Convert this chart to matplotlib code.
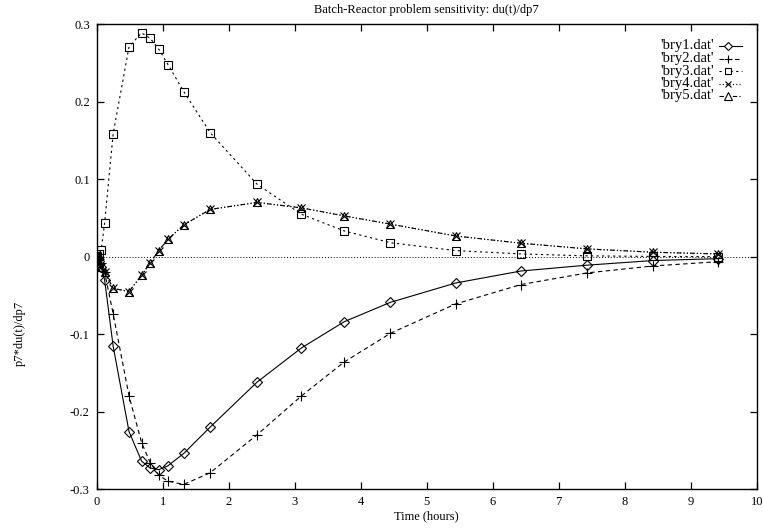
import matplotlib
matplotlib.use("Agg")
import matplotlib.pyplot as plt
from matplotlib.lines import Line2D

plt.rcParams['font.family'] = ['Liberation Serif', 'DejaVu Serif']

# Sample times (hours) shared by all data files
time = [0.0, 0.01, 0.03, 0.07, 0.12, 0.25, 0.49, 0.68, 0.81, 0.94, 1.08,
        1.32, 1.72, 2.43, 3.10, 3.75, 4.45, 5.44, 6.43, 7.43, 8.43, 9.42]

bry1 = [0.0, -0.002, -0.006, -0.014, -0.030, -0.116, -0.226, -0.264, -0.273,
        -0.275, -0.270, -0.254, -0.220, -0.162, -0.118, -0.084, -0.059,
        -0.034, -0.0185, -0.011, -0.005, -0.0026]
bry2 = [0.0, -0.001, -0.003, -0.008, -0.020, -0.074, -0.180, -0.240, -0.266,
        -0.282, -0.290, -0.294, -0.279, -0.230, -0.180, -0.136, -0.099,
        -0.061, -0.036, -0.021, -0.012, -0.0065]
bry3 = [0.0, 0.001, 0.003, 0.009, 0.044, 0.159, 0.271, 0.289, 0.282, 0.268,
        0.248, 0.213, 0.160, 0.0935, 0.0548, 0.0332, 0.018, 0.0078, 0.0035,
        0.001, 0.0003, 0.0]
bry4 = [0.0, -0.003, -0.008, -0.013, -0.020, -0.041, -0.045, -0.024, -0.008,
        0.0078, 0.0225, 0.041, 0.061, 0.070, 0.063, 0.0526, 0.042, 0.0267,
        0.0173, 0.010, 0.0057, 0.0035]
bry5 = [0.0, -0.003, -0.008, -0.013, -0.020, -0.041, -0.045, -0.024, -0.008,
        0.0078, 0.0225, 0.041, 0.061, 0.070, 0.063, 0.0526, 0.042, 0.0267,
        0.0173, 0.010, 0.0057, 0.0035]

labels = ["'bry1.dat'", "'bry2.dat'", "'bry3.dat'", "'bry4.dat'", "'bry5.dat'"]
xticks = [0, 1, 2, 3, 4, 5, 6, 7, 8, 9, 10]
yticks = [-0.3, -0.2, -0.1, 0, 0.1, 0.2, 0.3]
ytick_labels = ['-0.3', '-0.2', '-0.1', '0', '0.1', '0.2', '0.3']

W, H = 763, 529
fig = plt.figure(figsize=(W / 100, H / 100), dpi=100)
ax = fig.add_axes([96.7 / W, 1 - 489 / H, (756.7 - 96.7) / W, (489 - 24.3) / H])


def px(x, y):
    """Pixel position (from top-left) to figure fraction."""
    return x / W, 1 - y / H


styles = [
    dict(linestyle='-', marker='D', markersize=5.0),
    dict(linestyle=(0, (4, 3)), marker='+', markersize=6.5),
    dict(linestyle=(0, (2, 3)), marker='s', markersize=5.5),
    dict(linestyle=(0, (1, 2)), marker='x', markersize=5.5),
    dict(linestyle=(0, (4, 2, 1, 2, 1, 2)), marker='^', markersize=5.5),
]
key_sizes = [4.4, 6.0, 5.0, 5.0, 5.2]
series = [bry1, bry2, bry3, bry4, bry5]

ax.axhline(0, color='black', linestyle=(0, (1, 2)), linewidth=0.7, zorder=1)

for ys, st in zip(series, styles):
    ax.plot(time, ys, color='black', linewidth=0.8,
            markerfacecolor='none', markeredgecolor='black',
            markeredgewidth=0.8, **st)

ax.set_xlim(0, 10)
ax.set_ylim(-0.3, 0.3)
ax.set_xticks(xticks)
ax.set_yticks(yticks)
ax.set_xticklabels([str(t) for t in xticks])
ax.set_yticklabels(ytick_labels)
ax.tick_params(direction='in', length=5, width=0.9, top=True, right=True,
               labelsize=9, pad=5)
for sp in ax.spines.values():
    sp.set_linewidth(1.0)

fig.text(*px(426, 10), 'Batch-Reactor problem sensitivity: du(t)/dp7',
         ha='center', va='center', fontsize=9)
fig.text(*px(426.7, 516), 'Time (hours)', ha='center', va='center', fontsize=9)
fig.text(*px(20, 333), 'p7*du(t)/dp7', ha='center', va='center',
         rotation=90, fontsize=9)

# Key: right-aligned labels followed by a line/marker sample
rows_y = [46, 58.5, 71, 83.5, 96]
for lab, st, ks, yr in zip(labels, styles, key_sizes, rows_y):
    fig.text(*px(714, yr), lab, ha='right', va='center', fontsize=10.5)
    x0, y0 = px(719, yr)
    x1, _ = px(742, yr)
    xm, _ = px(727.5, yr)
    fig.add_artist(Line2D([x0, x1], [y0, y0], transform=fig.transFigure,
                          color='black', linewidth=0.8,
                          linestyle=st['linestyle']))
    fig.add_artist(Line2D([xm], [y0], transform=fig.transFigure,
                          linestyle='none', marker=st['marker'],
                          markersize=ks,
                          markerfacecolor='white', markeredgecolor='black',
                          markeredgewidth=0.8))

fig.savefig('out.png', dpi=100)
